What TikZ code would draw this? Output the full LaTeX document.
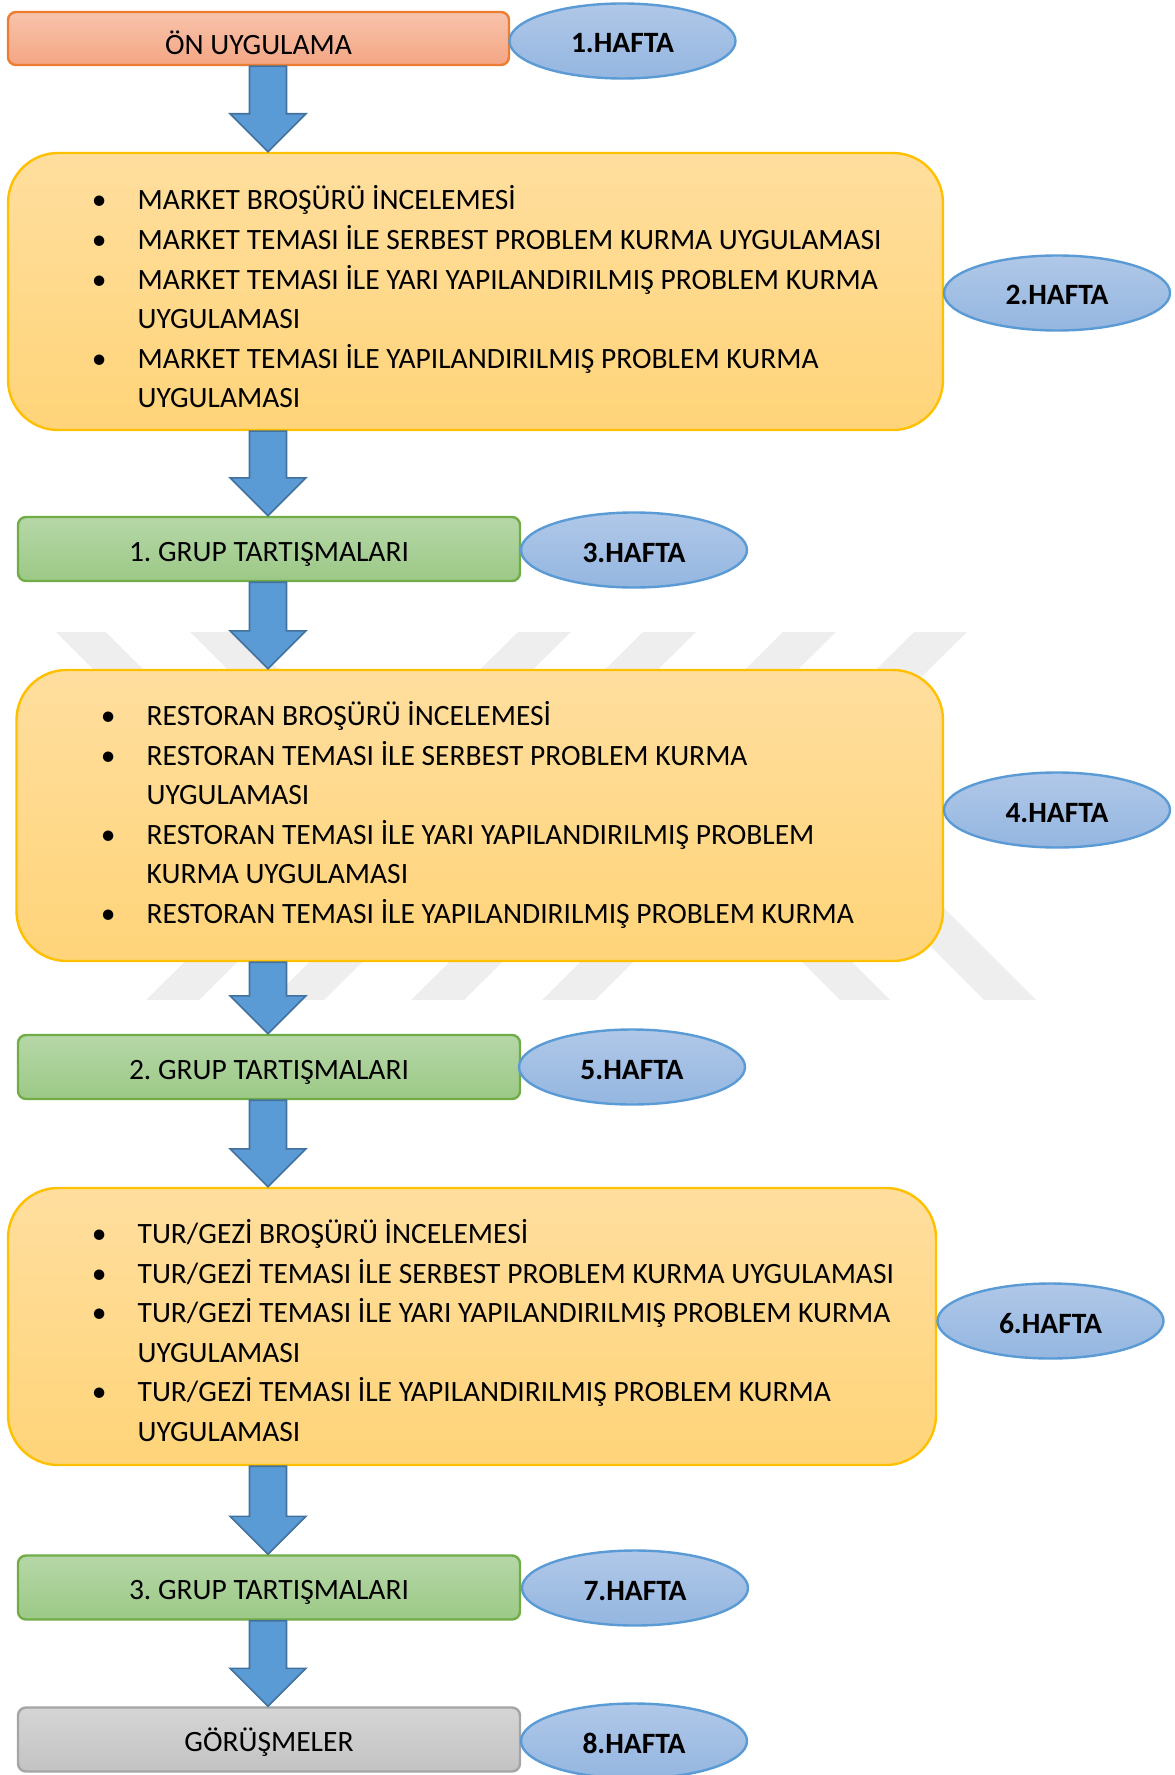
\documentclass[tikz,border=0pt]{standalone}
\usepackage{fontspec}
\setmainfont{Carlito}
\frenchspacing
\usepackage{tikz}
\usetikzlibrary{calc}
\usetikzlibrary{shapes.geometric}
\def\boxedge{1.2pt}
\definecolor{orangeedge}{HTML}{ED7D31}
\definecolor{orangetop}{HTML}{F8C3AC}
\definecolor{orangebottom}{HTML}{F4A683}
\definecolor{yellowedge}{HTML}{FFC000}
\definecolor{yellowtop}{HTML}{FFDE9E}
\definecolor{yellowbottom}{HTML}{FFD479}
\definecolor{greenedge}{HTML}{70AD47}
\definecolor{greentop}{HTML}{B6D7A8}
\definecolor{greenbottom}{HTML}{9CC986}
\definecolor{greyedge}{HTML}{A5A5A5}
\definecolor{greytop}{HTML}{D5D5D5}
\definecolor{greybottom}{HTML}{C3C3C3}
\definecolor{weekedge}{HTML}{5B9BD5}
\definecolor{weektop}{HTML}{B0C8E8}
\definecolor{weekbottom}{HTML}{94B6E0}
\definecolor{arrowblue}{HTML}{5B9BD5}
\definecolor{arrowedge}{HTML}{41719C}
\definecolor{markgrey}{HTML}{EEEEEE}
% block arrow from the bottom of #1 down to the top of #2
\newcommand{\blockarrow}[2]{%
  \draw [line width=.8pt, draw=arrowedge, fill=arrowblue, line join=miter]
    ($(ax |- #1.south)+(-18.5,0)$) -- ($(ax |- #2.north)+(-18.5,-38)$)
    -- ($(ax |- #2.north)+(-38,-38)$) -- (ax |- #2.north)
    -- ($(ax |- #2.north)+(38,-38)$) -- ($(ax |- #2.north)+(18.5,-38)$)
    -- ($(ax |- #1.south)+(18.5,0)$) -- cycle;}
\newcommand{\itembullet}{\hspace{1.8pt}\textbullet}

\begin{document}
\begin{tikzpicture}[x = 0.5pt, y = -0.5pt,
    every node/.style={font=\fontsize{14.75}{19.8}\selectfont},
    plainbox/.style={rectangle, rounded corners=4pt, line width=\boxedge, minimum width=251pt, minimum height=32pt, inner sep=0pt, text height=12pt, text depth=0pt},
    startbox/.style={plainbox, draw=orangeedge, top color=orangetop, bottom color=orangebottom, minimum width=250.5pt, minimum height=26.5pt, text height=16pt},
    groupbox/.style={plainbox, draw=greenedge, top color=greentop, bottom color=greenbottom},
    talkbox/.style={plainbox, draw=greyedge, top color=greytop, bottom color=greybottom},
    themebox/.style={rectangle, rounded corners=25pt, line width=\boxedge, draw=yellowedge, top color=yellowtop, bottom color=yellowbottom, inner sep=0pt},
    week/.style={ellipse, line width=\boxedge, draw=weekedge, top color=weektop, bottom color=weekbottom, minimum width=113pt, minimum height=37.5pt, inner sep=0pt, text height=12pt, text depth=0pt, font=\fontsize{14.75}{19.8}\selectfont\bfseries},
    itemtext/.style={anchor=west, inner sep=0pt, align=left}]
    \useasboundingbox (0,0) rectangle (1174,1775);

    % faint watermark behind the fourth week
    \fill [markgrey] (56,632) -- (106,632) -- (236,762) -- (186,762) -- cycle;
    \fill [markgrey] (190,632) -- (241,632) -- (371,762) -- (320,762) -- cycle;
    \foreach \a in {518,643,783,914}
        \fill [markgrey] (\a,632) -- (\a+53,632) -- (\a-319,1000) -- (\a-372,1000) -- cycle;
    \fill [markgrey] (840,1000) -- (890,1000) -- (770,880) -- (720,880) -- cycle;
    \fill [markgrey] (984,1000) -- (1036,1000) -- (916,880) -- (864,880) -- cycle;

    \coordinate (ax) at (268,0);

        \node [startbox] (b1) at (258.5,38.5) {ÖN UYGULAMA};
        \node [week] (w1) at (622.5,41) {1.HAFTA};

        \node [themebox, minimum width=467.5pt, minimum height=138.5pt] (b2) at (475.5,291.5) {};
        \node [itemtext] (t2) at ($(b2.west)+(81,9.5)$) {\begin{tabular}{@{}p{24.75pt}@{}l@{}}
            \itembullet & MARKET BROŞÜRÜ İNCELEMESİ\\
            \itembullet & MARKET TEMASI İLE SERBEST PROBLEM KURMA UYGULAMASI\\
            \itembullet & MARKET TEMASI İLE YARI YAPILANDIRILMIŞ PROBLEM KURMA\\
                        & UYGULAMASI\\
            \itembullet & MARKET TEMASI İLE YAPILANDIRILMIŞ PROBLEM KURMA\\
                        & UYGULAMASI
            \end{tabular}};
        \node [week] (w2) at (1057,293) {2.HAFTA};

        \node [groupbox] (b3) at (269,549) {1. GRUP TARTIŞMALARI};
        \node [week] (w3) at (634,550) {3.HAFTA};

        \node [themebox, minimum width=463.25pt, minimum height=145.5pt] (b4) at (479.75,815.5) {};
        \node [itemtext] (t4) at ($(b4.west)+(81.5,1)$) {\begin{tabular}{@{}p{24.75pt}@{}l@{}}
            \itembullet & RESTORAN BROŞÜRÜ İNCELEMESİ\\
            \itembullet & RESTORAN TEMASI İLE SERBEST PROBLEM KURMA\\
                        & UYGULAMASI\\
            \itembullet & RESTORAN TEMASI İLE YARI YAPILANDIRILMIŞ PROBLEM\\
                        & KURMA UYGULAMASI\\
            \itembullet & RESTORAN TEMASI İLE YAPILANDIRILMIŞ PROBLEM KURMA
            \end{tabular}};
        \node [week] (w4) at (1057,810) {4.HAFTA};

        \node [groupbox] (b5) at (269,1067) {2. GRUP TARTIŞMALARI};
        \node [week] (w5) at (632,1067) {5.HAFTA};

        \node [themebox, minimum width=464pt, minimum height=138.5pt] (b6) at (472,1326.5) {};
        \node [itemtext] (t6) at ($(b6.west)+(81,8)$) {\begin{tabular}{@{}p{24.75pt}@{}l@{}}
            \itembullet & TUR/GEZİ BROŞÜRÜ İNCELEMESİ\\
            \itembullet & TUR/GEZİ TEMASI İLE SERBEST PROBLEM KURMA UYGULAMASI\\
            \itembullet & TUR/GEZİ TEMASI İLE YARI YAPILANDIRILMIŞ PROBLEM KURMA\\
                        & UYGULAMASI\\
            \itembullet & TUR/GEZİ TEMASI İLE YAPILANDIRILMIŞ PROBLEM KURMA\\
                        & UYGULAMASI
            \end{tabular}};
        \node [week] (w6) at (1050.5,1321) {6.HAFTA};

        \node [groupbox] (b7) at (269,1587.5) {3. GRUP TARTIŞMALARI};
        \node [week] (w7) at (635,1588) {7.HAFTA};

        \node [talkbox] (b8) at (269,1739.5) {GÖRÜŞMELER};
        \node [week] (w8) at (634,1741) {8.HAFTA};

    \blockarrow{b1}{b2}
    \blockarrow{b2}{b3}
    \blockarrow{b3}{b4}
    \blockarrow{b4}{b5}
    \blockarrow{b5}{b6}
    \blockarrow{b6}{b7}
    \blockarrow{b7}{b8}

\end{tikzpicture}
\end{document}
